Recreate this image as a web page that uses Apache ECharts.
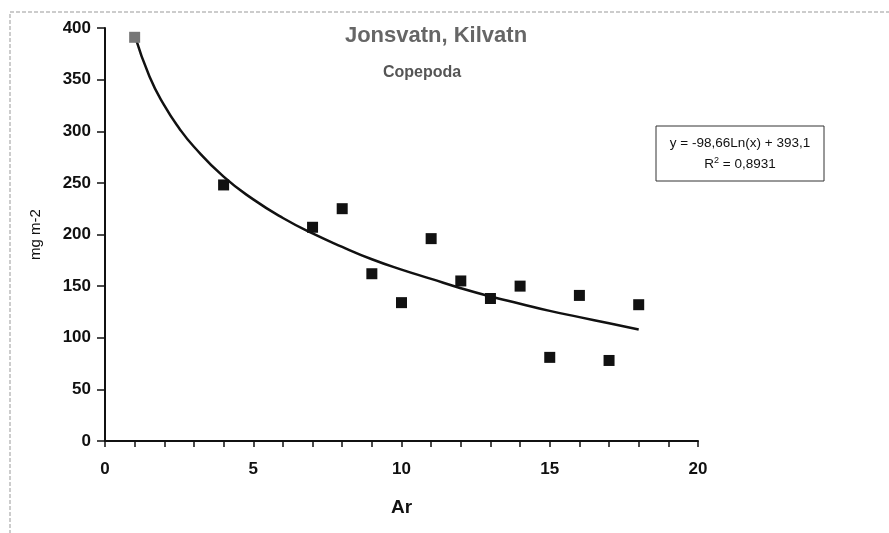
<!DOCTYPE html>
<html><head><meta charset="utf-8">
<script src="https://cdn.jsdelivr.net/npm/echarts@6/dist/echarts.min.js"></script>
<style>html,body{margin:0;padding:0;background:#fff}#c{width:889px;height:533px}</style>
</head><body><div id="c"></div>
<script>
// Observed data (year, mg m-2)
const years = [1, 4, 7, 8, 9, 10, 11, 12, 13, 14, 15, 16, 17, 18];
const values = [391, 248, 207, 225, 162, 134, 196, 155, 138, 150, 81, 141, 78, 132];
// Trend line
const trendX = [1, 1.5, 2, 2.5, 3, 4, 5, 6, 7, 8, 9, 10, 11, 12, 13, 14, 15, 16, 17, 18];
const trendY = [393, 353, 325, 303, 285, 256, 234, 216, 201, 188, 176, 166, 157, 148, 140, 133, 126, 120, 114, 108];
const xTicks = [0, 5, 10, 15, 20];
const yTicks = [0, 50, 100, 150, 200, 250, 300, 350, 400];
const titleText = 'Jonsvatn, Kilvatn';
const subtitleText = 'Copepoda';
const xName = 'Ar';
const yName = 'mg m-2';
const eqLine1 = 'y = -98,66Ln(x) + 393,1';
const eqLine2 = ['R', '2', ' = 0,8931'];

const font = 'Liberation Sans, Arial, sans-serif';
const chart = echarts.init(document.getElementById('c'), null, {renderer: 'canvas'});
const pts = years.map((x, i) => [x, values[i]]);
const trend = trendX.map((x, i) => [x, trendY[i]]);
chart.setOption({
  animation: false,
  backgroundColor: '#fff',
  grid: {left: 105, right: 191, top: 28, bottom: 92, containLabel: false},
  title: [
    {text: titleText, left: 431, top: 20, textAlign: 'center',
     textStyle: {fontFamily: font, fontSize: 22, fontWeight: 'bold', color: '#666'}},
    {text: subtitleText, left: 417, top: 60, textAlign: 'center',
     textStyle: {fontFamily: font, fontSize: 16, fontWeight: 'bold', color: '#555'}}
  ],
  xAxis: {
    type: 'value', min: xTicks[0], max: xTicks[xTicks.length - 1], interval: 5,
    name: xName, nameLocation: 'middle', nameGap: 57,
    nameTextStyle: {fontFamily: font, fontSize: 19, fontWeight: 'bold', color: '#111'},
    axisLine: {show: true, onZero: false, lineStyle: {color: '#111', width: 2}},
    axisTick: {show: true, length: 6, lineStyle: {color: '#111', width: 1.5}},
    minorTick: {show: true, splitNumber: 5, length: 6, lineStyle: {color: '#111', width: 1.5}},
    axisLabel: {fontFamily: font, fontSize: 17, fontWeight: 'bold', color: '#111', margin: 20},
    splitLine: {show: false}
  },
  yAxis: {
    type: 'value', min: yTicks[0], max: yTicks[yTicks.length - 1], interval: 50,
    name: yName, nameLocation: 'middle', nameGap: 62, nameRotate: 90,
    nameTextStyle: {fontFamily: font, fontSize: 15, color: '#111'},
    axisLine: {show: true, lineStyle: {color: '#111', width: 2}},
    axisTick: {show: true, length: 8, lineStyle: {color: '#111', width: 1.5}},
    axisLabel: {fontFamily: font, fontSize: 17, fontWeight: 'bold', color: '#111', margin: 14},
    splitLine: {show: false}
  },
  series: [
    {type: 'line', data: trend, smooth: true, showSymbol: false, symbol: 'none',
     lineStyle: {color: '#111', width: 2.5}, z: 2},
    {type: 'scatter', data: pts, symbol: 'rect', symbolSize: 11,
     itemStyle: {opacity: 1, color: function (p) { return p.dataIndex === 0 ? '#777' : '#111'; }}, z: 3}
  ],
  graphic: [
    {type: 'rect', shape: {x: 10, y: 12, width: 900, height: 540},
     style: {fill: 'none', stroke: '#999', lineWidth: 1, lineDash: [4, 2]}, silent: true},
    {type: 'rect', shape: {x: 656, y: 126, width: 168, height: 55},
     style: {fill: '#fff', stroke: '#333', lineWidth: 1}, z: 10},
    {type: 'text', x: 740, y: 143, z: 11,
     style: {text: eqLine1, fontFamily: font, fontSize: 13.5, fill: '#111', align: 'center', verticalAlign: 'middle'}},
    {type: 'text', x: 740, y: 164, z: 11,
     style: {text: '{a|' + eqLine2[0] + '}{s|' + eqLine2[1] + '}{a|' + eqLine2[2] + '}',
       align: 'center', verticalAlign: 'middle',
       rich: {a: {fontFamily: font, fontSize: 13.5, fill: '#111', color: '#111'},
              s: {fontFamily: font, fontSize: 9, fill: '#111', color: '#111', verticalAlign: 'top', padding: [0, 0, 6, 0]}}}}
  ]
});
</script></body></html>
